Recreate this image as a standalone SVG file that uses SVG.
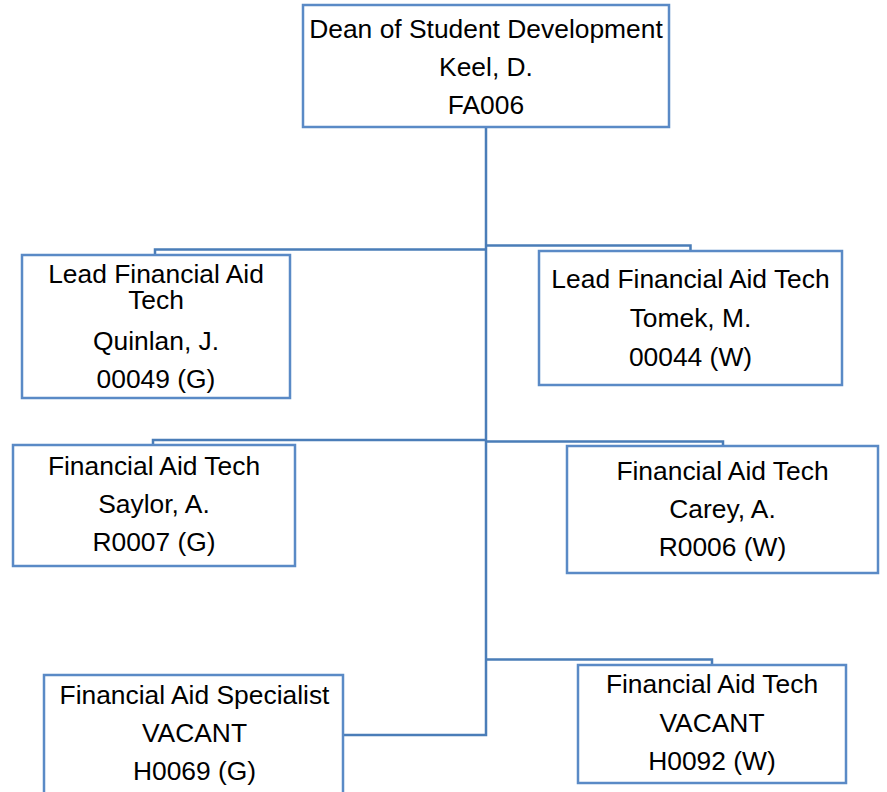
<svg xmlns="http://www.w3.org/2000/svg" width="887" height="792" viewBox="0 0 887 792">
<style>
.box{fill:#fff;stroke:#5a8ac6;stroke-width:2.5}
.conn{fill:none;stroke:#4a7db8;stroke-width:2.5}
text{font-family:"Liberation Sans",Arial,sans-serif;font-size:26.4px;fill:#000;text-anchor:middle}
</style>
<rect width="887" height="792" fill="#fff"/>
<g id="connectors">
<path class="conn" d="M486,127 V735 H343"/>
<path class="conn" d="M486,249.5 H155 V255"/>
<path class="conn" d="M486,245.5 H690.5 V251"/>
<path class="conn" d="M486,440 H153 V445"/>
<path class="conn" d="M486,441.5 H723 V446"/>
<path class="conn" d="M486,659.5 H712 V665"/>
</g>
<g id="dean">
<rect class="box" x="303" y="5" width="366" height="122"/>
<text x="486" y="38">Dean of Student Development</text>
<text x="486" y="76">Keel, D.</text>
<text x="486" y="114">FA006</text>
</g>
<g id="quinlan">
<rect class="box" x="22" y="255" width="268" height="143"/>
<text x="156" y="283">Lead Financial Aid</text>
<text x="156" y="309">Tech</text>
<text x="156" y="350">Quinlan, J.</text>
<text x="156" y="388">00049 (G)</text>
</g>
<g id="tomek">
<rect class="box" x="539" y="251" width="303" height="134"/>
<text x="690.5" y="288">Lead Financial Aid Tech</text>
<text x="690.5" y="327">Tomek, M.</text>
<text x="690.5" y="366">00044 (W)</text>
</g>
<g id="saylor">
<rect class="box" x="13" y="445" width="282" height="121"/>
<text x="154" y="475">Financial Aid Tech</text>
<text x="154" y="513">Saylor, A.</text>
<text x="154" y="551">R0007 (G)</text>
</g>
<g id="carey">
<rect class="box" x="567" y="446" width="311" height="127"/>
<text x="722.5" y="480">Financial Aid Tech</text>
<text x="722.5" y="518">Carey, A.</text>
<text x="722.5" y="556">R0006 (W)</text>
</g>
<g id="specialist">
<rect class="box" x="44" y="675" width="299" height="130"/>
<text x="194.5" y="704">Financial Aid Specialist</text>
<text x="194.5" y="742">VACANT</text>
<text x="194.5" y="780">H0069 (G)</text>
</g>
<g id="tech-vacant">
<rect class="box" x="578" y="665" width="268" height="118"/>
<text x="712" y="693">Financial Aid Tech</text>
<text x="712" y="732">VACANT</text>
<text x="712" y="770">H0092 (W)</text>
</g>
</svg>
